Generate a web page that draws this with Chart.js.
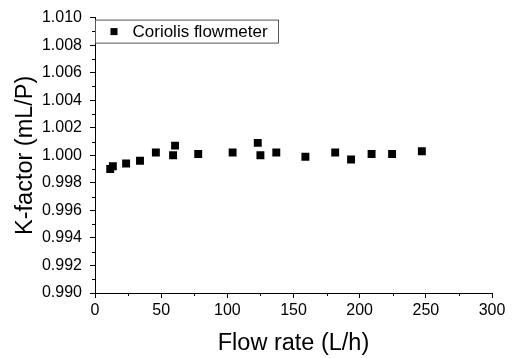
<!DOCTYPE html>
<html>
<head>
<meta charset="utf-8">
<script src="https://cdn.jsdelivr.net/npm/chart.js@4/dist/chart.umd.min.js"></script>
<style>
    html, body { margin: 0; padding: 0; background: #ffffff; }
    #chartBox { width: 514px; height: 358px; position: relative; }
</style>
</head>
<body>
<div id="chartBox"><canvas id="kChart"></canvas></div>
<script>
const flowRates = [11.5, 13.5, 23.5, 34, 46, 59, 60.5, 78, 104, 123, 125, 137, 159, 181.5, 193.5, 209, 224.5, 247];
const kFactors = [0.9990, 0.9992, 0.9994, 0.9996, 1.0002, 1.0000, 1.0007, 1.0001, 1.0002, 1.0009, 1.0000, 1.0002, 0.9999, 1.0002, 0.9997, 1.0001, 1.0001, 1.0003];
const seriesLabel = 'Coriolis flowmeter';
const xTitle = 'Flow rate (L/h)';
const yTitle = 'K-factor (mL/P)';

const FONT = 'Arial, "Liberation Sans", sans-serif';

document.addEventListener("DOMContentLoaded", () => {
    renderChart();
});

// minor ticks halfway between the major ones, shorter than the majors
const minorTicks = {
    id: 'minorTicks',
    afterDraw(chart) {
        const ctx = chart.ctx;
        ctx.save();
        ctx.strokeStyle = '#000';
        ctx.lineWidth = 1;
        ['x', 'y'].forEach(id => {
            const scale = chart.scales[id];
            const ticks = scale.ticks;
            for (let i = 0; i < ticks.length - 1; i++) {
                const mid = (ticks[i].value + ticks[i + 1].value) / 2;
                const p = Math.round(scale.getPixelForValue(mid)) + 0.5;
                ctx.beginPath();
                if (id === 'x') {
                    ctx.moveTo(p, scale.top);
                    ctx.lineTo(p, scale.top + 3);
                } else {
                    ctx.moveTo(scale.right, p);
                    ctx.lineTo(scale.right - 3, p);
                }
                ctx.stroke();
            }
        });
        ctx.restore();
    }
};

// legend box drawn inside the plot, top-left corner
const insetLegend = {
    id: 'insetLegend',
    afterDraw(chart) {
        const ctx = chart.ctx;
        const area = chart.chartArea;
        const ds = chart.data.datasets[0];
        const x = area.left + 0.5;
        const y = area.top + 2.5;
        ctx.save();
        ctx.font = '17px ' + FONT;
        const w = 183;
        const h = 23;
        ctx.fillStyle = '#fff';
        ctx.fillRect(x, y, w, h);
        ctx.strokeStyle = '#555';
        ctx.lineWidth = 1;
        ctx.strokeRect(x, y, w, h);
        ctx.fillStyle = ds.backgroundColor;
        ctx.fillRect(x + 15, y + 8, 7, 7);
        ctx.fillStyle = '#000';
        ctx.textBaseline = 'middle';
        ctx.fillText(ds.label, x + 37, y + h / 2 + 1);
        ctx.restore();
    }
};

function renderChart() {
    const canvas = document.getElementById('kChart');

    new Chart(canvas.getContext('2d'), {
        type: 'scatter',
        data: {
            datasets: [{
                label: seriesLabel,
                data: flowRates.map((f, i) => ({ x: f, y: kFactors[i] })),
                backgroundColor: '#000',
                borderColor: '#000',
                borderWidth: 0,
                pointStyle: 'rect',
                pointRadius: 5.6,
                pointHoverRadius: 5.6
            }]
        },
        options: {
            responsive: true,
            maintainAspectRatio: false,
            animation: false,
            layout: { padding: { left: 0, top: 15, right: 22, bottom: 0 } },
            plugins: {
                legend: { display: false },
                tooltip: { enabled: false }
            },
            scales: {
                x: {
                    type: 'linear',
                    min: 0,
                    max: 300,
                    border: { color: '#000', width: 1 },
                    grid: { drawOnChartArea: false, tickLength: 5, tickColor: '#000' },
                    ticks: { stepSize: 50, color: '#000', padding: 3, font: { family: FONT, size: 16 } },
                    title: { display: true, text: xTitle, color: '#000', padding: { top: 0, bottom: 0 }, font: { family: FONT, size: 23.5 } },
                    afterFit: scale => { scale.height = 65; }
                },
                y: {
                    type: 'linear',
                    min: 0.99,
                    max: 1.01,
                    border: { color: '#000', width: 1 },
                    grid: { drawOnChartArea: false, tickLength: 5, tickColor: '#000' },
                    ticks: {
                        stepSize: 0.002,
                        color: '#000',
                        padding: 8,
                        font: { family: FONT, size: 16 },
                        callback: v => v.toFixed(3)
                    },
                    title: { display: true, text: yTitle, color: '#000', padding: { top: 11, bottom: 0 }, font: { family: FONT, size: 23.5 } },
                    afterFit: scale => { scale.width = 95; }
                }
            }
        },
        plugins: [minorTicks, insetLegend]
    });
}
</script>
</body>
</html>
